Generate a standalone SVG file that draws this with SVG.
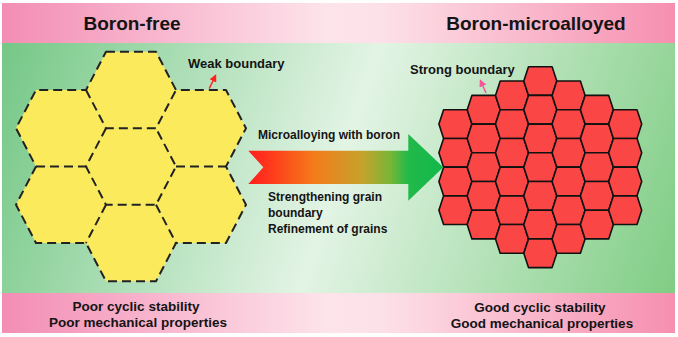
<svg xmlns="http://www.w3.org/2000/svg" xmlns:xlink="http://www.w3.org/1999/xlink" width="678" height="337" viewBox="0 0 678 337">
<defs>
<linearGradient id="pinkBand" x1="0" y1="0" x2="1" y2="0">
<stop offset="0" stop-color="#f38db4"/>
<stop offset="0.48" stop-color="#fde3ea"/>
<stop offset="0.56" stop-color="#fde1e9"/>
<stop offset="1" stop-color="#f68fb0"/>
</linearGradient>
<linearGradient id="greenBg" gradientUnits="userSpaceOnUse" x1="0" y1="60" x2="678" y2="280">
<stop offset="0" stop-color="#76c887"/>
<stop offset="0.5" stop-color="#e3f4e5"/>
<stop offset="1" stop-color="#80cd85"/>
</linearGradient>
<linearGradient id="arrowGrad" gradientUnits="userSpaceOnUse" x1="248" y1="0" x2="443" y2="0">
<stop offset="0" stop-color="#ff1e1e"/>
<stop offset="0.12" stop-color="#ff3a1c"/>
<stop offset="0.34" stop-color="#f47c1a"/>
<stop offset="0.59" stop-color="#c4a32c"/>
<stop offset="0.73" stop-color="#78b636"/>
<stop offset="0.82" stop-color="#22b94a"/>
<stop offset="1" stop-color="#12b84b"/>
</linearGradient>
<polygon id="hexY" points="-25,-38.25 25,-38.25 45,0 25,38.25 -25,38.25 -45,0"/>
<polygon id="hexR" points="-11.8,-14.35 11.8,-14.35 16.5,0 11.8,14.35 -11.8,14.35 -16.5,0"/>
<marker id="headRed" viewBox="0 0 10 10" refX="8" refY="5" markerWidth="5" markerHeight="5" orient="auto">
<path d="M0,0 L10,5 L0,10 z" fill="#ff2020"/>
</marker>
<marker id="headPink" viewBox="0 0 10 10" refX="8" refY="5" markerWidth="5" markerHeight="5" orient="auto">
<path d="M0,0 L10,5 L0,10 z" fill="#f5559a"/>
</marker>
</defs>
<style>
text { font-family: "Liberation Sans", Arial, sans-serif; font-weight: bold; fill: #141414; }
.title { font-size: 19px; }
.label { font-size: 13px; }
.note { font-size: 12px; }
.foot { font-size: 13.5px; }
.yfill use { fill: #fbea5c; }
.ybound { fill: none; stroke: #222; stroke-width: 2; stroke-dasharray: 9 5; stroke-linejoin: round; }
.rgrains use { fill: #fb4646; stroke: #111; stroke-width: 1.6; stroke-linejoin: round; }
</style>

<rect x="0" y="0" width="678" height="337" fill="#ffffff"/>
<g id="background">
<rect x="2" y="3" width="673" height="40" fill="url(#pinkBand)"/>
<rect x="2" y="43" width="673" height="250" fill="url(#greenBg)"/>
<rect x="2" y="293" width="673" height="40" fill="url(#pinkBand)"/>
</g>

<g id="titles">
<text class="title" x="132" y="30" text-anchor="middle">Boron-free</text>
<text class="title" x="536" y="30" text-anchor="middle">Boron-microalloyed</text>
</g>

<g id="boron-free-grains">
<g class="yfill">
<g id="grain-top"><use xlink:href="#hexY" href="#hexY" x="131" y="90"/></g>
<g id="grain-center"><use xlink:href="#hexY" href="#hexY" x="131" y="166.5"/></g>
<g id="grain-bottom"><use xlink:href="#hexY" href="#hexY" x="131" y="243"/></g>
<g id="grain-upper-left"><use xlink:href="#hexY" href="#hexY" x="61" y="128.25"/></g>
<g id="grain-lower-left"><use xlink:href="#hexY" href="#hexY" x="61" y="204.75"/></g>
<g id="grain-upper-right"><use xlink:href="#hexY" href="#hexY" x="201" y="128.25"/></g>
<g id="grain-lower-right"><use xlink:href="#hexY" href="#hexY" x="201" y="204.75"/></g>
</g>
<g id="weak-boundaries" class="ybound">
<path d="M106,51.75 L156,51.75 L176,90 L226,90 L246,128.25 L226,166.5 L246,204.75 L226,243 L176,243 L156,281.25 L106,281.25 L86,243 L36,243 L16,204.75 L36,166.5 L16,128.25 L36,90 L86,90 Z"/>
<path d="M86,90 L106,128.25 L156,128.25 L176,90"/>
<path d="M106,128.25 L86,166.5 L106,204.75 L156,204.75 L176,166.5 L156,128.25"/>
<path d="M36,166.5 L86,166.5"/>
<path d="M176,166.5 L226,166.5"/>
<path d="M106,204.75 L86,243"/>
<path d="M156,204.75 L176,243"/>
</g>
</g>

<g id="boron-microalloyed-grains" class="rgrains">
<use xlink:href="#hexR" href="#hexR" x="455.4" y="124.1"/>
<use xlink:href="#hexR" href="#hexR" x="455.4" y="152.8"/>
<use xlink:href="#hexR" href="#hexR" x="455.4" y="181.5"/>
<use xlink:href="#hexR" href="#hexR" x="455.4" y="210.2"/>
<use xlink:href="#hexR" href="#hexR" x="483.7" y="109.75"/>
<use xlink:href="#hexR" href="#hexR" x="483.7" y="138.45"/>
<use xlink:href="#hexR" href="#hexR" x="483.7" y="167.15"/>
<use xlink:href="#hexR" href="#hexR" x="483.7" y="195.85"/>
<use xlink:href="#hexR" href="#hexR" x="483.7" y="224.55"/>
<use xlink:href="#hexR" href="#hexR" x="512" y="95.4"/>
<use xlink:href="#hexR" href="#hexR" x="512" y="124.1"/>
<use xlink:href="#hexR" href="#hexR" x="512" y="152.8"/>
<use xlink:href="#hexR" href="#hexR" x="512" y="181.5"/>
<use xlink:href="#hexR" href="#hexR" x="512" y="210.2"/>
<use xlink:href="#hexR" href="#hexR" x="512" y="238.9"/>
<use xlink:href="#hexR" href="#hexR" x="540.3" y="81.05"/>
<use xlink:href="#hexR" href="#hexR" x="540.3" y="109.75"/>
<use xlink:href="#hexR" href="#hexR" x="540.3" y="138.45"/>
<use xlink:href="#hexR" href="#hexR" x="540.3" y="167.15"/>
<use xlink:href="#hexR" href="#hexR" x="540.3" y="195.85"/>
<use xlink:href="#hexR" href="#hexR" x="540.3" y="224.55"/>
<use xlink:href="#hexR" href="#hexR" x="540.3" y="253.25"/>
<use xlink:href="#hexR" href="#hexR" x="568.6" y="95.4"/>
<use xlink:href="#hexR" href="#hexR" x="568.6" y="124.1"/>
<use xlink:href="#hexR" href="#hexR" x="568.6" y="152.8"/>
<use xlink:href="#hexR" href="#hexR" x="568.6" y="181.5"/>
<use xlink:href="#hexR" href="#hexR" x="568.6" y="210.2"/>
<use xlink:href="#hexR" href="#hexR" x="568.6" y="238.9"/>
<use xlink:href="#hexR" href="#hexR" x="596.9" y="109.75"/>
<use xlink:href="#hexR" href="#hexR" x="596.9" y="138.45"/>
<use xlink:href="#hexR" href="#hexR" x="596.9" y="167.15"/>
<use xlink:href="#hexR" href="#hexR" x="596.9" y="195.85"/>
<use xlink:href="#hexR" href="#hexR" x="596.9" y="224.55"/>
<use xlink:href="#hexR" href="#hexR" x="625.2" y="124.1"/>
<use xlink:href="#hexR" href="#hexR" x="625.2" y="152.8"/>
<use xlink:href="#hexR" href="#hexR" x="625.2" y="181.5"/>
<use xlink:href="#hexR" href="#hexR" x="625.2" y="210.2"/>
</g>

<g id="process-arrow">
<polygon points="248.3,150.7 408.3,150.7 408.3,134 443.3,167.3 408.3,200.7 408.3,184 248.3,184 263.3,167.3" fill="url(#arrowGrad)"/>
<text class="note" x="258" y="139">Microalloying with boron</text>
<text class="note" x="268" y="200.5">Strengthening grain</text>
<text class="note" x="268" y="216.5">boundary</text>
<text class="note" x="268" y="232.5">Refinement of grains</text>
</g>

<g id="weak-boundary-label">
<text class="label" x="188" y="68">Weak boundary</text>
</g>
<g id="strong-boundary-label">
<text class="label" x="410" y="74">Strong boundary</text>
</g>

<g id="connectors">
<line x1="209.3" y1="88.5" x2="215.5" y2="75.5" stroke="#ff2020" stroke-width="1.5" marker-end="url(#headRed)"/>
<line x1="486" y1="93" x2="480.5" y2="80.5" stroke="#f5559a" stroke-width="1.5" marker-end="url(#headPink)"/>
</g>

<g id="footer">
<text class="foot" x="136" y="311" text-anchor="middle">Poor cyclic stability</text>
<text class="foot" x="138" y="327" text-anchor="middle">Poor mechanical properties</text>
<text class="foot" x="540" y="312" text-anchor="middle">Good cyclic stability</text>
<text class="foot" x="542" y="328" text-anchor="middle">Good mechanical properties</text>
</g>
</svg>
